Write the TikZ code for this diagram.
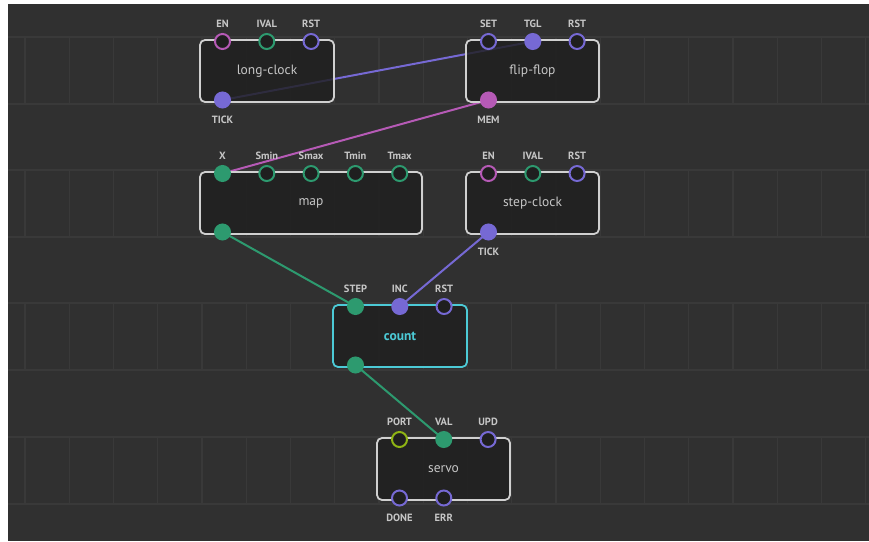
\documentclass[tikz,border=0pt]{standalone}
\usepackage{fontspec}
\setmainfont{PT Sans}
\usetikzlibrary{positioning}
\definecolor{bgc}{HTML}{303030}
\definecolor{gridc}{HTML}{393939}
\definecolor{boxfill}{HTML}{1F1F1F}
\definecolor{boxline}{HTML}{D0D0D0}
\definecolor{pinpink}{HTML}{B65AB6}
\definecolor{pingreen}{HTML}{2D9A6F}
\definecolor{pinblue}{HTML}{7669D4}
\definecolor{pinlime}{HTML}{8FB414}
\definecolor{selcyan}{HTML}{4CCAD6}
\definecolor{txt}{HTML}{C6C6C6}
\pgfdeclarelayer{back}
\pgfdeclarelayer{links}
\pgfsetlayers{back,links,main}
\tikzset{
  gridline/.style={draw=gridc, line width=1.3pt},
  box/.style={draw=boxline, line width=1.8pt, rounded corners=5pt, fill=boxfill,
    fill opacity=0.82, text opacity=1, text=txt, minimum height=62pt,
    font=\fontsize{13.5}{15}\selectfont},
  socket/.style 2 args={circle, draw=#1, fill=#2, line width=2pt,
    minimum size=15pt, inner sep=0pt},
  pinlabel/.style={text=txt, inner sep=1pt, font=\fontsize{10.5}{12}\selectfont\bfseries},
  link/.style={line width=2pt, draw=#1},
}
\begin{document}
\begin{tikzpicture}[x=1pt, y=-1pt]
  \useasboundingbox (0,0) rectangle (869,541);
  % canvas with grid rows
  \begin{pgfonlayer}{back}
    \fill[bgc] (8,4) rectangle (869,541);
    \foreach \y in {37,170,303,437} {
      \draw[gridline] (8,\y) -- (869,\y);
      \draw[gridline] (8,\y+67) -- (869,\y+67);
      \foreach \k in {0,...,19}
        \draw[gridline] (25+44.25*\k,\y) -- ++(0,67);
    }
  \end{pgfonlayer}

  % nodes
  \node[box, minimum width=134pt] at (267,71) (lc) {long-clock};
  \node[box, minimum width=133pt] at (532.5,71) (ff) {flip-flop};
  \node[box, minimum width=222pt] at (311,203) (map) {map};
  \node[box, minimum width=133pt] at (532.5,203) (sc) {step-clock};
  \node[box, minimum width=134pt, draw=selcyan, text=selcyan,
    font=\fontsize{13.5}{15}\selectfont\bfseries] at (400,336) (cnt) {count};
  \node[box, minimum width=133pt] at (443.5,469) (srv) {servo};

  % pins on top
  \foreach \p/\i/\c/\f/\t in {en/0/pinpink/boxfill/EN, ival/1/pingreen/boxfill/IVAL,
      rst/2/pinblue/boxfill/RST} {
    \node[socket={\c}{\f}] at (222.5+44.3*\i,41.5) (lc-\p) {};
    \node[pinlabel, above=4pt of lc-\p] (lc-\p-l) {\t};
  }
  \foreach \p/\i/\c/\f/\t in {set/0/pinblue/boxfill/SET, tgl/1/pinblue/pinblue/TGL,
      rst/2/pinblue/boxfill/RST} {
    \node[socket={\c}{\f}] at (488.5+44.3*\i,41.5) (ff-\p) {};
    \node[pinlabel, above=4pt of ff-\p] (ff-\p-l) {\t};
  }
  \foreach \p/\i/\f/\t in {x/0/pingreen/X, smin/1/boxfill/Smin, smax/2/boxfill/Smax,
      tmin/3/boxfill/Tmin, tmax/4/boxfill/Tmax} {
    \node[socket={pingreen}{\f}] at (222.5+44.3*\i,173.5) (map-\p) {};
    \node[pinlabel, above=4pt of map-\p] (map-\p-l) {\t};
  }
  \foreach \p/\i/\c/\t in {en/0/pinpink/EN, ival/1/pingreen/IVAL, rst/2/pinblue/RST} {
    \node[socket={\c}{boxfill}] at (488.5+44.3*\i,173.5) (sc-\p) {};
    \node[pinlabel, above=4pt of sc-\p] (sc-\p-l) {\t};
  }
  \foreach \p/\i/\c/\f/\t in {step/0/pingreen/pingreen/STEP, inc/1/pinblue/pinblue/INC,
      rst/2/pinblue/boxfill/RST} {
    \node[socket={\c}{\f}] at (355.5+44.3*\i,306.5) (cnt-\p) {};
    \node[pinlabel, above=4pt of cnt-\p] (cnt-\p-l) {\t};
  }
  \foreach \p/\i/\c/\f/\t in {port/0/pinlime/boxfill/PORT, val/1/pingreen/pingreen/VAL,
      upd/2/pinblue/boxfill/UPD} {
    \node[socket={\c}{\f}] at (399.5+44.3*\i,439.5) (srv-\p) {};
    \node[pinlabel, above=4pt of srv-\p] (srv-\p-l) {\t};
  }

  % pins at the bottom
  \node[socket={pinblue}{pinblue}] at (222.5,100) (lc-tick) {};
  \node[pinlabel, below=6pt of lc-tick] (lc-tick-l) {TICK};
  \node[socket={pinpink}{pinpink}] at (488.5,100) (ff-mem) {};
  \node[pinlabel, below=6pt of ff-mem] (ff-mem-l) {MEM};
  \node[socket={pingreen}{pingreen}] at (222.5,232) (map-out) {};
  \node[socket={pinblue}{pinblue}] at (488.5,232) (sc-tick) {};
  \node[pinlabel, below=6pt of sc-tick] (sc-tick-l) {TICK};
  \node[socket={pingreen}{pingreen}] at (355.5,365) (cnt-out) {};
  \node[socket={pinblue}{boxfill}] at (399.5,498) (srv-done) {};
  \node[pinlabel, below=6pt of srv-done] (srv-done-l) {DONE};
  \node[socket={pinblue}{boxfill}] at (443.8,498) (srv-err) {};
  \node[pinlabel, below=6pt of srv-err] (srv-err-l) {ERR};

  % links
  \begin{pgfonlayer}{links}
    \path[link=pinblue] (lc-tick.center) edge (ff-tgl.center);
    \path[link=pinpink] (ff-mem.center) edge (map-x.center);
    \path[link=pingreen] (map-out.center) edge (cnt-step.center);
    \path[link=pinblue] (sc-tick.center) edge (cnt-inc.center);
    \path[link=pingreen] (cnt-out.center) edge (srv-val.center);
  \end{pgfonlayer}
\end{tikzpicture}
\end{document}
